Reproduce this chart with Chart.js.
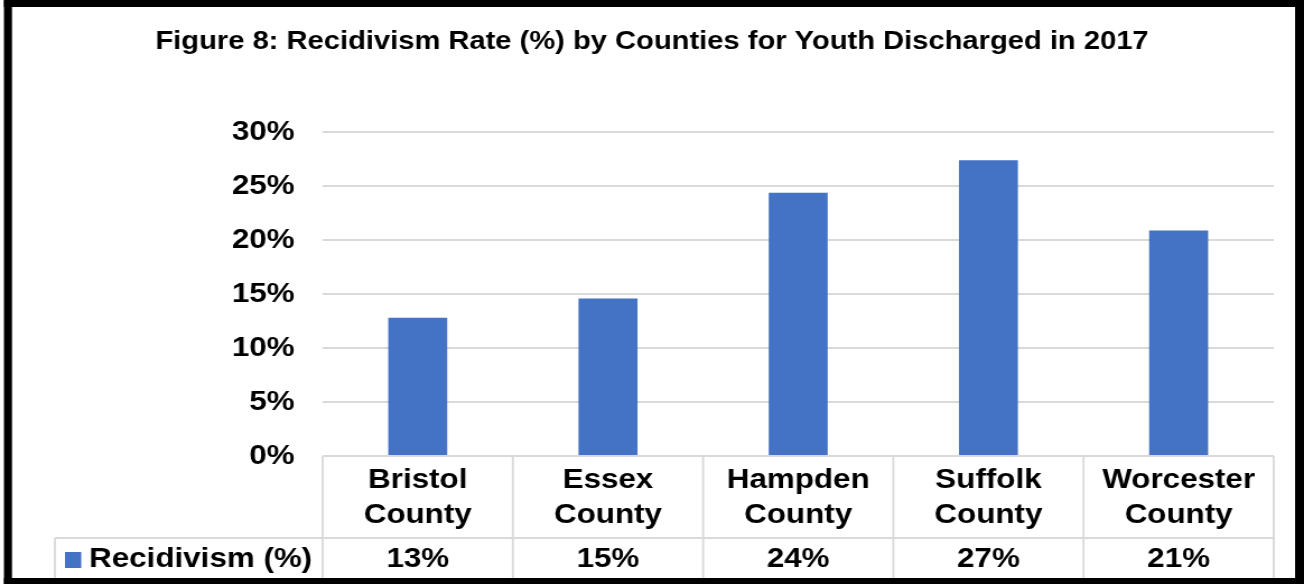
<!DOCTYPE html>
<html>
<head>
<meta charset="utf-8">
<title>Recidivism Rate by County</title>
<script src="https://cdn.jsdelivr.net/npm/chart.js@4.4.1/dist/chart.umd.min.js"></script>
<style>
  html, body { margin: 0; padding: 0; background: #fff; }
  #wrap { width: 1304px; height: 584px; position: relative; }
  /* the drawing is widened a little horizontally */
  #chart { display: block; }
</style>
</head>
<body>
<div id="wrap"><canvas id="chart" width="1164" height="584" style="width:1304px;height:584px"></canvas></div>
<script>
// data
const counties = [['Bristol', 'County'], ['Essex', 'County'], ['Hampden', 'County'], ['Suffolk', 'County'], ['Worcester', 'County']];
const recidivism = [12.8, 14.6, 24.4, 27.4, 20.9];
const seriesName = 'Recidivism (%)';
const yTicks = [0, 5, 10, 15, 20, 25, 30];

const BLUE = '#4472C4';
const GRID = '#d9d9d9';
const FONT = 'Arial, "Liberation Sans", sans-serif';

// table under the axis: category row + value row with legend key
const dataTable = {
    id: 'dataTable',
    afterDraw(chart) {
        const ctx = chart.ctx;
        const area = chart.chartArea;
        const x = chart.scales.x;
        const W = chart.width;
        const rowTop = area.bottom;
        const rowSplit = rowTop + 82;
        const rowBottom = 584;
        const step = (area.right - area.left) / counties.length;

        ctx.save();
        ctx.strokeStyle = GRID;
        ctx.lineWidth = 2;
        ctx.beginPath();
        ctx.moveTo(area.left, rowTop);
        ctx.lineTo(area.right, rowTop);
        ctx.moveTo(49, rowSplit);
        ctx.lineTo(area.right, rowSplit);
        ctx.stroke();

        ctx.lineWidth = 1.8;
        ctx.beginPath();
        ctx.moveTo(49, rowSplit);
        ctx.lineTo(49, rowBottom);
        for (let i = 0; i <= counties.length; i++) {
            const px = area.left + i * step;
            ctx.moveTo(px, rowTop);
            ctx.lineTo(px, rowBottom);
        }
        ctx.stroke();

        // legend key
        ctx.fillStyle = BLUE;
        ctx.fillRect(58, 552, 14.5, 16);
        ctx.fillStyle = '#000';
        ctx.font = 'bold 28px ' + FONT;
        ctx.textBaseline = 'middle';
        ctx.textAlign = 'left';
        ctx.fillText(chart.data.datasets[0].label, 79.5, 559);

        // values
        ctx.textAlign = 'center';
        chart.data.datasets[0].data.forEach((v, i) => {
            ctx.fillText(Math.round(v) + '%', x.getPixelForValue(i), 559);
        });

        // frame
        ctx.fillStyle = '#000';
        ctx.fillRect(3.5, 0, W, 7);
        ctx.fillRect(3.5, 0, 7.2, 584);
        ctx.fillRect(1156, 0, W - 1156, 584);
        ctx.fillRect(3.5, 578, W, 6);
        ctx.restore();
    }
};

const whiteBg = {
    id: 'whiteBg',
    beforeDraw(chart) {
        const ctx = chart.ctx;
        ctx.save();
        ctx.fillStyle = '#fff';
        ctx.fillRect(0, 0, chart.width, chart.height);
        ctx.restore();
    }
};

new Chart(document.getElementById('chart'), {
    type: 'bar',
    data: {
        labels: counties,
        datasets: [{
            label: seriesName,
            data: recidivism,
            backgroundColor: BLUE,
            borderWidth: 0,
            categoryPercentage: 1,
            barPercentage: 0.31
        }]
    },
    options: {
        responsive: false,
        animation: false,
        // equal side padding keeps the title centred on the canvas
        layout: { padding: { left: 27, right: 27, top: 0, bottom: 0 } },
        plugins: {
            legend: { display: false },
            tooltip: { enabled: false },
            title: {
                display: true,
                text: 'Figure 8: Recidivism Rate (%) by Counties for Youth Discharged in 2017',
                color: '#000',
                font: { family: FONT, size: 26, weight: 'bold', lineHeight: 1.2 },
                padding: { top: 26, bottom: 75 }
            }
        },
        scales: {
            x: {
                grid: { display: false, drawTicks: false },
                border: { display: false },
                ticks: {
                    color: '#000',
                    padding: 7,
                    maxRotation: 0,
                    autoSkip: false,
                    font: { family: FONT, size: 28, weight: 'bold', lineHeight: 1.25 }
                },
                afterFit(scale) { scale.height = 128; }
            },
            y: {
                min: 0,
                max: 30,
                afterBuildTicks(scale) { scale.ticks = yTicks.map(v => ({ value: v })); },
                grid: { color: GRID, lineWidth: 2, drawTicks: false },
                border: { display: false },
                ticks: {
                    color: '#000',
                    padding: 25,
                    font: { family: FONT, size: 28, weight: 'bold' },
                    callback: v => v + '%'
                },
                afterFit(scale) { scale.width = 261; }
            }
        }
    },
    plugins: [whiteBg, dataTable]
});
</script>
</body>
</html>
